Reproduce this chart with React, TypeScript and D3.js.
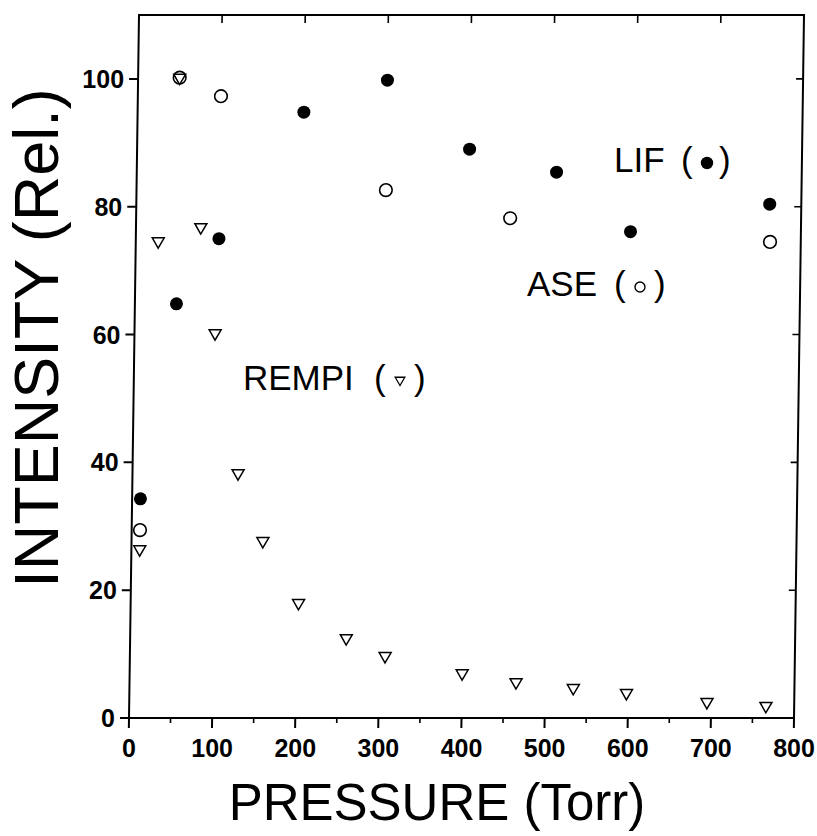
import * as d3 from 'd3'

// pressure (Torr) / relative intensity
const lifP = [10, 50, 100, 200, 300, 400, 505, 595, 762]
const lifI = [34.3, 64.8, 75.0, 94.8, 99.8, 89.0, 85.4, 76.1, 80.4]

const aseP = [10, 50, 100, 300, 450, 763]
const aseI = [29.4, 100.2, 97.3, 82.6, 78.2, 74.5]

const rempiP = [10, 27, 50, 78, 97, 127, 158, 202, 260, 307, 400, 465, 534, 598, 695, 766]
const rempiI = [26.4, 74.6, 100.2, 76.8, 60.2, 38.3, 27.7, 18.0, 12.5, 9.7, 7.0, 5.6, 4.7, 3.9, 2.5, 1.9]

const xTicks = [0, 100, 200, 300, 400, 500, 600, 700, 800]
const xMinor = [50, 150, 250, 350, 450, 550, 650, 750]
const yTicks = [0, 20, 40, 60, 80, 100]

const W = 817
const H = 836
const L = 129, R = 794, T = 15, B = 718

export default function App() {
  const x = d3.scaleLinear().domain([0, 800]).range([L, R])
  const y = d3.scaleLinear().domain([0, 110]).range([B, T])

  const tri = d3.symbol().type(d3.symbolTriangle).size(62)()
  const triSmall = d3.symbol().type(d3.symbolTriangle).size(40)()

  // the scan is slightly sheared: top edge sits ~10px right of the bottom
  const shear = `translate(0,${B}) skewX(${(-Math.atan(10 / (B - T)) * 180) / Math.PI}) translate(0,${-B})`

  const font = '"Liberation Sans", Arial, Helvetica, sans-serif'
  const lab = 35

  return (
    <svg width={W} height={H} style={{ position: 'absolute', left: 0, top: 0, background: '#fff' }} fontFamily={font}>
      <g transform={shear}>
        <rect x={L} y={T} width={R - L} height={B - T} fill="none" stroke="#000" strokeWidth={2} />

        {xTicks.map(t => (
          <g key={'xt' + t}>
            <line x1={x(t)} x2={x(t)} y1={B} y2={B + 10} stroke="#000" strokeWidth={2} />
            {t > 0 && t < 800 && <line x1={x(t)} x2={x(t)} y1={T} y2={T + 8} stroke="#000" strokeWidth={1.6} />}
          </g>
        ))}
        {xMinor.map(t => (
          <line key={'xm' + t} x1={x(t)} x2={x(t)} y1={B} y2={B + 5} stroke="#000" strokeWidth={1.6} />
        ))}
        {yTicks.map(t => (
          <g key={'yt' + t}>
            <line x1={L - 9} x2={L} y1={y(t)} y2={y(t)} stroke="#000" strokeWidth={2} />
            {t > 0 && <line x1={R - 7} x2={R} y1={y(t)} y2={y(t)} stroke="#000" strokeWidth={1.6} />}
          </g>
        ))}

        {aseP.map((p, i) => (
          <circle key={'a' + i} cx={x(p)} cy={y(aseI[i])} r={6.3} fill="#fff" stroke="#000" strokeWidth={1.6} />
        ))}
        {rempiP.map((p, i) => (
          <path key={'r' + i} d={tri} transform={`translate(${x(p)},${y(rempiI[i])}) rotate(180)`}
            fill="none" stroke="#000" strokeWidth={1.5} />
        ))}
        {lifP.map((p, i) => (
          <circle key={'l' + i} cx={x(p)} cy={y(lifI[i])} r={6.5} fill="#000" />
        ))}
      </g>

      {xTicks.map(t => (
        <text key={'xl' + t} x={x(t)} y={757} textAnchor="middle" fontSize={25} fontWeight="bold">{t}</text>
      ))}
      {yTicks.map(t => (
        <text key={'yl' + t} x={x(0) - 6 + 10 * (B - y(t)) / (B - T) - 8} y={y(t) + 9} textAnchor="end"
          fontSize={25} fontWeight="bold">{t}</text>
      ))}

      <text transform="translate(58,338) rotate(-90)" textAnchor="middle" fontSize={63}>INTENSITY (Rel.)</text>
      <text x={437} y={820} textAnchor="middle" fontSize={51}>PRESSURE (Torr)</text>

      <text x={614} y={172} fontSize={lab}>LIF</text>
      <text x={681} y={172} fontSize={lab}>(</text>
      <circle cx={707} cy={163} r={6.2} fill="#000" />
      <text x={719} y={172} fontSize={lab}>)</text>

      <text x={527} y={296} fontSize={lab}>ASE</text>
      <text x={614} y={296} fontSize={lab}>(</text>
      <circle cx={640} cy={287} r={5} fill="none" stroke="#000" strokeWidth={1.4} />
      <text x={654} y={296} fontSize={lab}>)</text>

      <text x={243} y={390} fontSize={lab}>REMPI</text>
      <text x={374} y={390} fontSize={lab}>(</text>
      <path d={triSmall} transform="translate(400,380) rotate(180)" fill="none" stroke="#000" strokeWidth={1.3} />
      <text x={414} y={390} fontSize={lab}>)</text>
    </svg>
  )
}
